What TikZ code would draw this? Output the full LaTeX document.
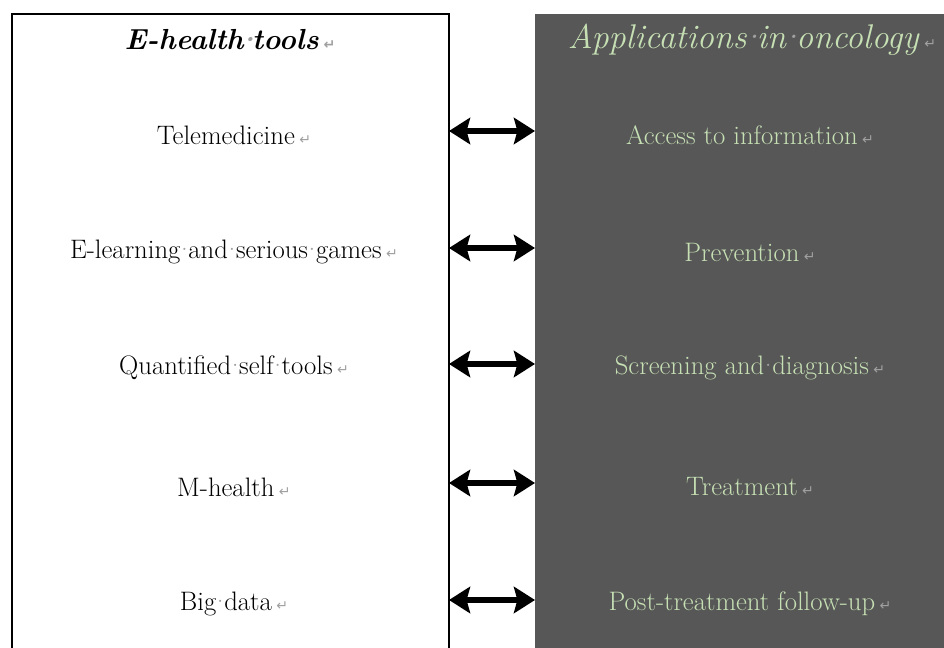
\documentclass[tikz,border=0pt]{standalone}
\usepackage{fontspec}
\newfontfamily\markfont{DejaVu Sans}
\usepackage{xcolor}
\usetikzlibrary{arrows.meta,positioning,calc}
\definecolor{panelgray}{HTML}{575757}
\definecolor{palegreen}{HTML}{C6E0B4}
\definecolor{markgray}{HTML}{A0A0A0}
% Word formatting marks as they are printed
\newcommand{\pmark}{\,{\markfont\color{markgray}\fontsize{8}{8}\selectfont ↵}}
\newcommand{\sdot}{\makebox[0.3em]{\color{markgray}·}}

\begin{document}
\begin{tikzpicture}[x=0.02cm,y=-0.02cm,
    tool/.style={font=\fontsize{15.2}{17}\selectfont,text=black},
    appl/.style={font=\fontsize{15.2}{17}\selectfont,text=palegreen},
    bothway/.style={line width=3.4pt,{Stealth[length=12pt,width=15pt,inset=2pt]}-{Stealth[length=12pt,width=15pt,inset=2pt]}}]
    % Page
    \useasboundingbox (0,0) rectangle (944,648);
    % Panels
    \clip (0,0) rectangle (944,648);
    \draw[line width=1.3pt] (12,660) -- (12,14) -- (449,14) -- (449,660);
    \fill[panelgray] (535,14) rectangle (944,660);
    % Titles
    \node[font=\fontsize{16.5}{19}\selectfont\bfseries\itshape] (ltitle) at (230,40) {E-health\sdot tools\pmark};
    \node[font=\fontsize{19.5}{22}\selectfont\itshape,text=palegreen] (rtitle) at (752,40) {Applications\sdot in\sdot oncology\pmark};
    % Rows
    \foreach \y/\name/\txt in {135/tele/Telemedicine,252/elearn/E-learning\sdot and\sdot serious\sdot games,
        368/qself/Quantified\sdot self\sdot tools,487/mhealth/M-health,604/bigdata/Big\sdot data} {
      \node[tool] (\name) at (234,\y) {\txt\pmark};
    }
    \foreach \y/\name/\txt in {135/access/Access to information,252/prevent/Prevention,
        368/screen/Screening and\sdot diagnosis,487/treat/Treatment,604/follow/Post-treatment follow-up} {
      \node[appl] (\name) at (750,\y) {\txt\pmark};
    }
    % Arrows between the panels
    \foreach \a/\b in {tele/access,elearn/prevent,qself/screen,mhealth/treat,bigdata/follow} {
      \coordinate (\a-e) at ($(\a.center)+(215,-4)$);
      \coordinate (\b-w) at ($(\b.center)+(-215,-4)$);
      \draw[bothway] (\a-e) -- (\b-w);
    }
\end{tikzpicture}
\end{document}
